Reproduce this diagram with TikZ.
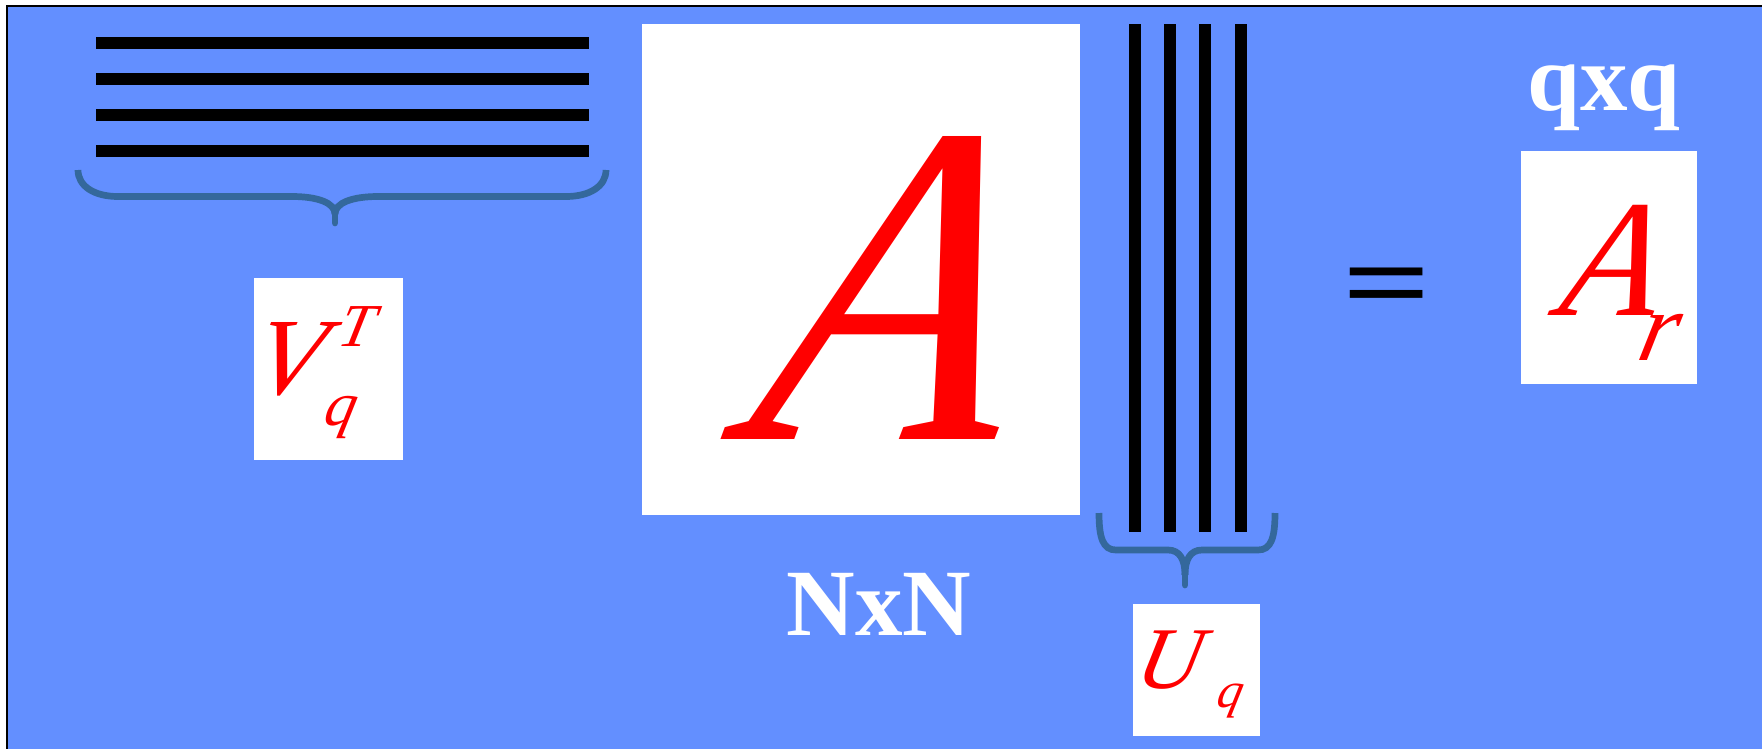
\documentclass[tikz,border=0pt]{standalone}
\usepackage{fontspec}
\setmainfont{Liberation Serif}[ItalicFeatures={FakeSlant=0.22}]
\usepackage{tikz}
\definecolor{bgblue}{RGB}{99,143,255}
\definecolor{bracecol}{RGB}{52,104,156}
\newcommand{\fsz}[1]{\fontsize{#1}{#1}\selectfont}

\begin{document}
\begin{tikzpicture}[x=1pt, y=-1pt,
	matbox/.style={fill=white, draw=none, inner sep=0pt},
	sym/.style={red, inner sep=0pt, anchor=base west},
	dimlabel/.style={white, inner sep=0pt, anchor=base, font=\fsz{95}\bfseries},
	bar/.style={line width=12pt},
	brace/.style={bracecol, line width=6.7pt}]
	\useasboundingbox (0,0) rectangle (1762,748);
	\clip (0,0) rectangle (1762,748);
	\draw[fill=bgblue, line width=1.5pt] (7,6) rectangle (1780,770);
	% rows of V_q^T
	\foreach \y in {42.5,79,115,151.3}
		\draw[bar] (96,\y) -- (589,\y);
	\draw[brace] (78,170) .. controls (78,186) and (94,196.5) .. (118,196.5) -- (292,196.5)
		.. controls (318,196.5) and (335,203) .. (335,214);
	\draw[brace] (606,170) .. controls (606,186) and (590,196.5) .. (566,196.5) -- (378,196.5)
		.. controls (352,196.5) and (335,203) .. (335,214);
	\draw[brace, line cap=round] (335,210) -- (335,223);
	\node[matbox, minimum width=149pt, minimum height=182pt] (vbox) at (328.5,368.6) {};
	\node[sym] (vlabel) at (249.4,394.7) {\fsz{110}\itshape V\kern19.5pt\rlap{\raisebox{48pt}{\fsz{61}T}}\kern-13.5pt\raisebox{-31pt}{\fsz{62}q}};
	% the matrix A
	\node[matbox, minimum width=438pt, minimum height=491pt] (abox) at (861,269.2) {};
	\node[sym] (alabel) at (743.4,439.3) {\fsz{459}\itshape\scalebox{0.9}[1]{A}};
	\node[dimlabel] (nxn) at (879.2,635) {NxN};
	% columns of U_q
	\foreach \x in {1134.5,1170,1205,1240.5}
		\draw[bar] (\x,24) -- (\x,531.7);
	\draw[brace] (1099,513) .. controls (1099,538) and (1103,550) .. (1116,550) -- (1168,550)
		.. controls (1180,550) and (1185,560) .. (1185,575);
	\draw[brace] (1275,513) .. controls (1275,538) and (1271,550) .. (1258,550) -- (1202,550)
		.. controls (1190,550) and (1185,560) .. (1185,575);
	\draw[brace, line cap=round] (1185,570) -- (1185,585);
	\node[matbox, minimum width=127pt, minimum height=132pt] (ubox) at (1196.5,670) {};
	\node[sym] (ulabel) at (1133,688.8) {\fsz{88}\itshape U\kern19pt\raisebox{-18.7pt}{\fsz{50}q}};
	% result
	\node[inner sep=0pt, anchor=base, font=\fsz{125}\bfseries] (eq) at (1386.7,320) {\scalebox{1.25}[0.9]{=}};
	\node[dimlabel] (qxq) at (1604,110) {qxq};
	\node[matbox, minimum width=176pt, minimum height=232.7pt] (arbox) at (1609,267.3) {};
	\node[sym] (arlabel) at (1556.5,315.7) {\fsz{167}\itshape\scalebox{0.95}[1]{A}\kern-18pt\raisebox{-45pt}{\fsz{98}r}};
\end{tikzpicture}
\end{document}
